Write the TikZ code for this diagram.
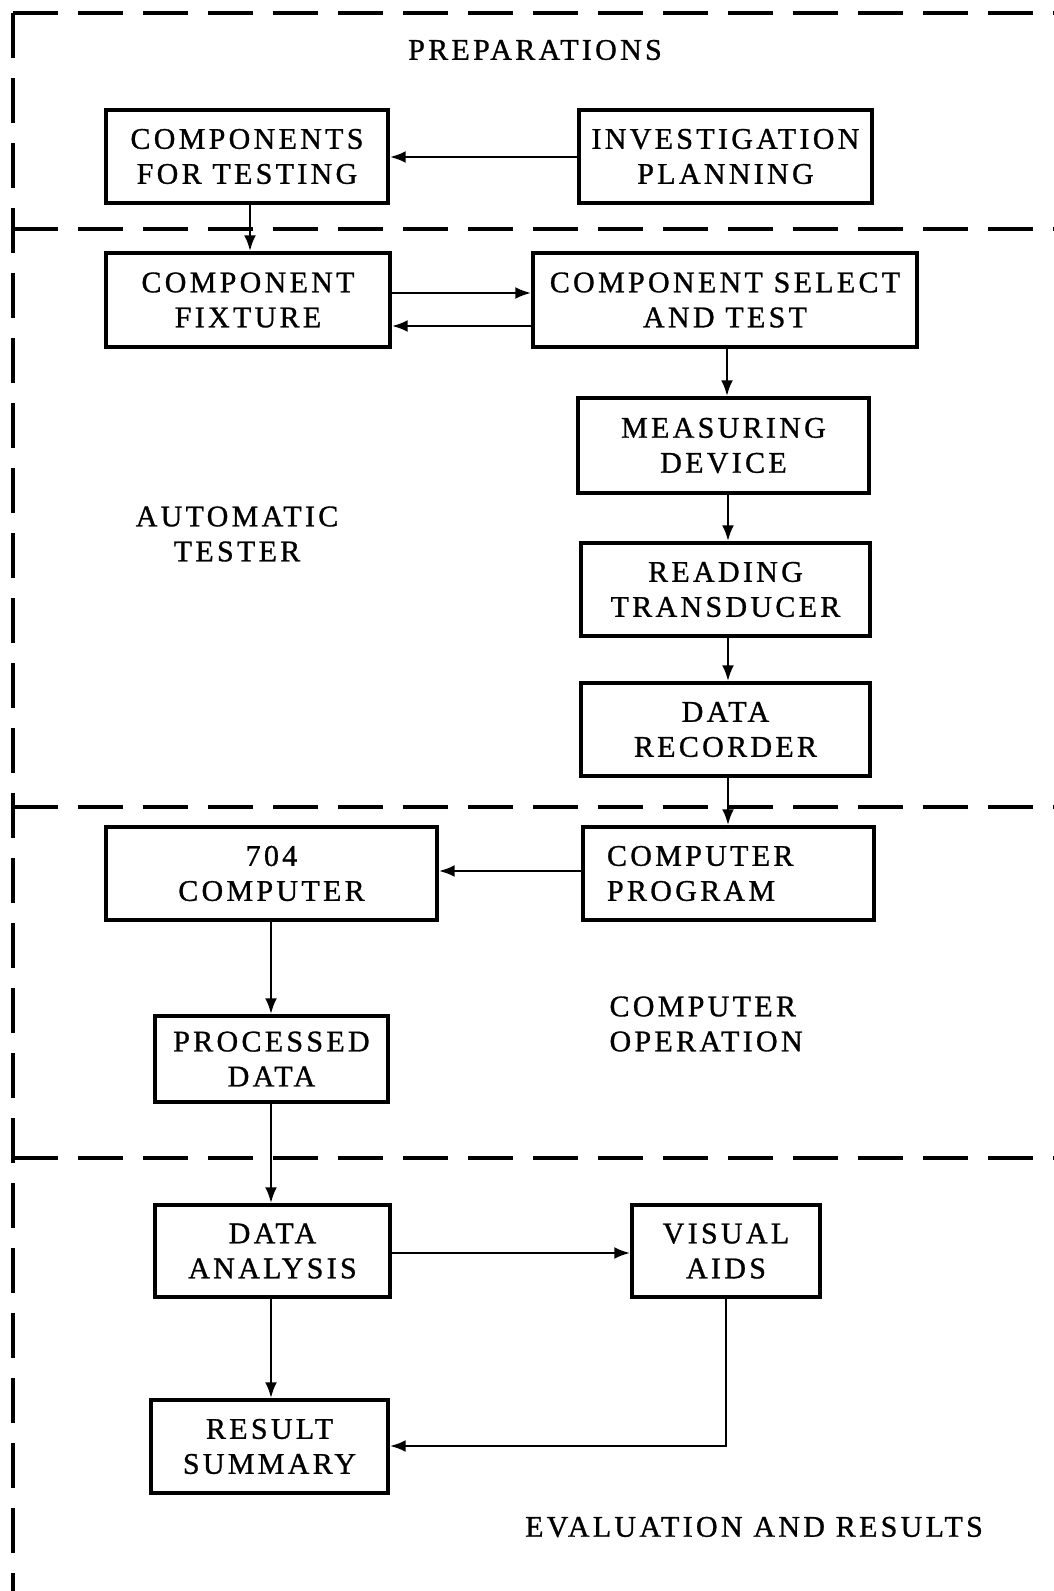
\documentclass[tikz,border=0pt]{standalone}
\usepackage{fontspec}
\setmainfont{Liberation Serif}[LetterSpace=11,FakeBold=1]
\usetikzlibrary{arrows.meta,calc}
\begin{document}
\begin{tikzpicture}[x=1pt,y=-1pt,
  box/.style={draw, line width=3.4pt, rectangle, align=center, inner sep=0pt,
    font=\fontsize{30}{35}\selectfont},
  arr/.style={line width=2.9pt, -{Latex[length=16pt,width=12pt]}},
  sep/.style={line width=3.4pt, dash pattern=on 45pt off 20pt},
  lbl/.style={font=\fontsize{30}{35}\selectfont, align=center}]
\useasboundingbox (0,0) rectangle (1054,1591);

% section separators
\coordinate (c0) at (13,13);
\coordinate (c1) at (13,229);
\coordinate (c2) at (13,807);
\coordinate (c3) at (13,1158);
\draw[sep] (c0) -- (1054,13);
\draw[sep] (c0) -- (13,1591);
\draw[sep] (c1) -- (1054,229);
\draw[sep] (c2) -- (1054,807);
\draw[sep] (c3) -- (1054,1158);

% section labels
\node[lbl] (lprep) at (535,50) {PREPARATIONS};
\node[lbl] (lauto) at (237,534) {AUTOMATIC\\TESTER};
\node[lbl, align=left, anchor=west] (lcomp) at (606,1024) {COMPUTER\\OPERATION};
\node[lbl] (leval) at (754,1527) {EVALUATION AND RESULTS};

% boxes
\node[box, minimum width=282pt, minimum height=93pt] (cft) at (247,156.5) {COMPONENTS\\FOR TESTING};
\node[box, minimum width=293pt, minimum height=93pt] (ip) at (725.5,156.5) {INVESTIGATION\\PLANNING};
\node[box, minimum width=284pt, minimum height=94pt] (cf) at (248,300) {COMPONENT\\FIXTURE};
\node[box, minimum width=384pt, minimum height=94pt] (cst) at (725,300) {COMPONENT SELECT\\AND TEST};
\node[box, minimum width=291pt, minimum height=95pt] (md) at (723.5,445.5) {MEASURING\\DEVICE};
\node[box, minimum width=289pt, minimum height=93pt] (rt) at (725.5,589.5) {READING\\TRANSDUCER};
\node[box, minimum width=289pt, minimum height=93pt] (dr) at (725.5,729.5) {DATA\\RECORDER};
\node[box, minimum width=331pt, minimum height=93pt] (c704) at (271.5,873.5) {704\\COMPUTER};
\node[box, align=left, text width=243pt, inner xsep=24pt, minimum width=291pt, minimum height=93pt] (cp) at (728.5,873.5) {COMPUTER\\PROGRAM};
\node[box, minimum width=233pt, minimum height=86pt] (pd) at (271.5,1059) {PROCESSED\\DATA};
\node[box, minimum width=235pt, minimum height=92pt] (da) at (272.5,1251) {DATA\\ANALYSIS};
\node[box, minimum width=188pt, minimum height=92pt] (va) at (726,1251) {VISUAL\\AIDS};
\node[box, minimum width=237pt, minimum height=93pt] (rs) at (269.5,1446.5) {RESULT\\SUMMARY};

% connectors
\draw[arr] (ip.west |- 0,157) -- (cft.east |- 0,157);
\draw[arr] (cft.south -| 250,0) -- (cf.north -| 250,0);
\draw[arr] (cf.east |- 0,293) -- (cst.west |- 0,293);
\draw[arr] (cst.west |- 0,326) -- (cf.east |- 0,326);
\draw[arr] (cst.south -| 727,0) -- (md.north -| 727,0);
\draw[arr] (md.south -| 728,0) -- (rt.north -| 728,0);
\draw[arr] (rt.south -| 728,0) -- (dr.north -| 728,0);
\draw[arr] (dr.south -| 728,0) -- (cp.north -| 728,0);
\draw[arr] (cp.west |- 0,871) -- (c704.east |- 0,871);
\draw[arr] (c704.south -| 271,0) -- (pd.north -| 271,0);
\draw[arr] (pd.south -| 271,0) -- (da.north -| 271,0);
\draw[arr] (da.east |- 0,1253) -- (va.west |- 0,1253);
\draw[arr] (da.south -| 271,0) -- (rs.north -| 271,0);
\draw[arr] (va.south) -- (va.south |- 0,1446) -- (rs.east |- 0,1446);
\end{tikzpicture}
\end{document}
